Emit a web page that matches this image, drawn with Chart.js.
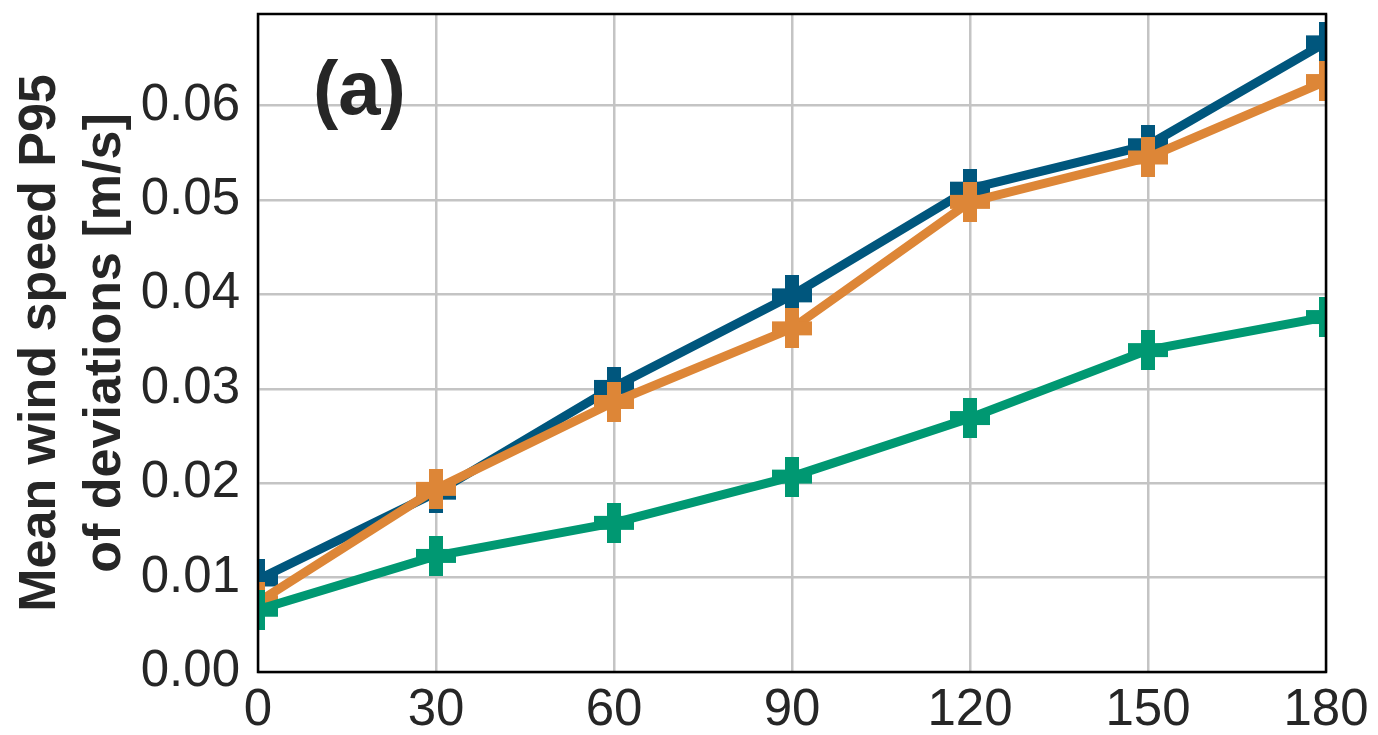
<!DOCTYPE html>
<html>
<head>
<meta charset="utf-8">
<script src="https://cdn.jsdelivr.net/npm/chart.js@4.4.1/dist/chart.umd.min.js"></script>
<style>
  html, body { margin: 0; padding: 0; background: #fff; overflow: hidden; }
  #wrap { width: 1378px; height: 735px; overflow: hidden; }
  #chart { display: block; margin-top: -15px; }
</style>
</head>
<body>
<div id="wrap"><canvas id="chart" width="1378" height="750"></canvas></div>
<script>
// values
const xValues = [0, 30, 60, 90, 120, 150, 180];
const blueValues = [0.0098, 0.0190, 0.0302, 0.0399, 0.0512, 0.0558, 0.0667];
const orangeValues = [0.0074, 0.0194, 0.0286, 0.0364, 0.0498, 0.0545, 0.0626];
const greenValues = [0.0066, 0.0123, 0.0158, 0.0207, 0.0269, 0.0341, 0.0376];
const yTitleLines = ["Mean wind speed P95", "of deviations [m/s]"];
const panelLabel = "(a)";

const textColor = "#262626";

function makePlus(color) {
    const size = 40, arm = 14;
    const c = document.createElement("canvas");
    c.width = size;
    c.height = size;
    const g = c.getContext("2d");
    g.fillStyle = color;
    g.fillRect((size - arm) / 2, 0, arm, size);
    g.fillRect(0, (size - arm) / 2, size, arm);
    return c;
}

function toPoints(values) {
    return values.map((v, i) => ({ x: xValues[i], y: v }));
}

function series(values, color, order) {
    return {
        data: toPoints(values),
        borderColor: color,
        backgroundColor: color,
        borderWidth: 9,
        pointStyle: makePlus(color),
        pointRadius: 20,
        pointHoverRadius: 20,
        tension: 0,
        clip: 0,
        order: order
    };
}

const framePlugin = {
    id: "frame",
    afterDraw(chart) {
        const { ctx, chartArea } = chart;
        ctx.save();
        ctx.strokeStyle = "#000";
        ctx.lineWidth = 2.5;
        ctx.strokeRect(chartArea.left, chartArea.top,
            chartArea.right - chartArea.left, chartArea.bottom - chartArea.top);
        ctx.fillStyle = textColor;
        ctx.font = "bold 76px 'Liberation Sans', Arial, sans-serif";
        ctx.textBaseline = "alphabetic";
        ctx.textAlign = "left";
        ctx.fillText(panelLabel, chartArea.left + 55, chartArea.top + 100);
        ctx.restore();
    }
};

new Chart(document.getElementById("chart"), {
    type: "line",
    data: {
        datasets: [
            series(blueValues, "#00567d", 2),
            series(orangeValues, "#dd8637", 1),
            series(greenValues, "#009872", 0)
        ]
    },
    options: {
        responsive: false,
        animation: false,
        events: [],
        layout: { padding: { top: 13, right: 52, left: 0, bottom: 0 } },
        plugins: { legend: { display: false }, tooltip: { enabled: false } },
        scales: {
            x: {
                type: "linear",
                min: 0,
                max: 180,
                afterFit(scale) {
                    scale.height = 63;
                    scale.paddingLeft = 0;
                    scale.paddingRight = 0;
                },
                ticks: {
                    stepSize: 30,
                    color: textColor,
                    padding: 8,
                    font: { family: "'Liberation Sans', Arial, sans-serif", size: 51 }
                },
                grid: { color: "#c4c4c4", lineWidth: 2.5, drawTicks: false },
                border: { display: false }
            },
            y: {
                min: 0,
                max: 0.0697,
                afterFit(scale) {
                    scale.width = 258;
                    scale.paddingTop = 0;
                    scale.paddingBottom = 0;
                },
                ticks: {
                    stepSize: 0.01,
                    includeBounds: false,
                    color: textColor,
                    padding: 18,
                    font: { family: "'Liberation Sans', Arial, sans-serif", size: 51 },
                    callback: (v) => v.toFixed(2)
                },
                grid: { color: "#c4c4c4", lineWidth: 2.5, drawTicks: false },
                border: { display: false },
                title: {
                    display: true,
                    text: yTitleLines,
                    color: textColor,
                    padding: { top: 8, bottom: 0 },
                    font: { family: "'Liberation Sans', Arial, sans-serif", size: 52, weight: "bold", lineHeight: 1.25 }
                }
            }
        }
    },
    plugins: [framePlugin]
});
</script>
</body>
</html>
